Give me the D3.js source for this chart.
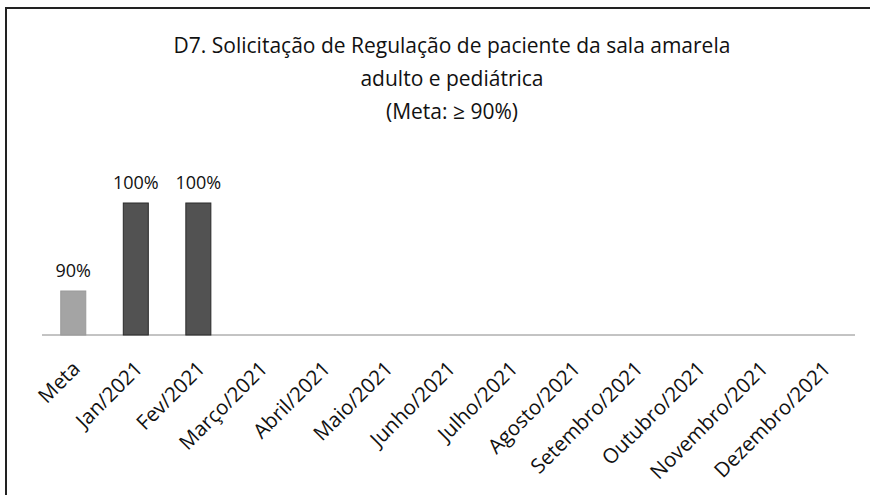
<!DOCTYPE html>
<html>
<head>
<meta charset="utf-8">
<script src="https://cdn.jsdelivr.net/npm/d3@7"></script>
<style>
  html, body { margin: 0; padding: 0; background: #fff; }
  svg { display: block; }
  text { font-family: "Open Sans", "Noto Sans", sans-serif; fill: #111; }
</style>
</head>
<body>
<svg id="chart" width="870" height="495"></svg>
<script>
const categories = ["Meta", "Jan/2021", "Fev/2021", "Março/2021", "Abril/2021", "Maio/2021",
  "Junho/2021", "Julho/2021", "Agosto/2021", "Setembro/2021", "Outubro/2021", "Novembro/2021", "Dezembro/2021"];
const values = [0.90, 1.00, 1.00, null, null, null, null, null, null, null, null, null, null];
const titleLines = ["D7. Solicitação de Regulação de paciente da sala amarela", "adulto e pediátrica", "(Meta: ≥ 90%)"];
const yDomain = [0.85, 1.00];

const svg = d3.select("#chart");

// frame
svg.append("rect")
  .attr("x", 6).attr("y", 8).attr("width", 880).attr("height", 500)
  .attr("fill", "none").attr("stroke", "#222").attr("stroke-width", 2);

// title
const title = svg.append("g");
titleLines.forEach((t, i) => {
  title.append("text")
    .attr("x", 452).attr("y", 53 + i * 33)
    .attr("text-anchor", "middle")
    .style("font-size", "21px")
    .text(t);
});

const x = d3.scaleBand().domain(categories).range([42, 855]).paddingInner(0.6).paddingOuter(0.3);
const y = d3.scaleLinear().domain(yDomain).range([335, 203]);

// baseline
svg.append("line")
  .attr("x1", 42).attr("x2", 855).attr("y1", 335).attr("y2", 335)
  .attr("stroke", "#888").attr("stroke-width", 1);

const data = categories.map((c, i) => ({ c, v: values[i] })).filter(d => d.v != null);

svg.selectAll("rect.bar").data(data).enter().append("rect")
  .attr("class", "bar")
  .attr("x", d => x(d.c))
  .attr("width", x.bandwidth())
  .attr("y", d => y(d.v))
  .attr("height", d => y(yDomain[0]) - y(d.v))
  .attr("fill", d => d.c === "Meta" ? "#a4a4a4" : "#525252")
  .attr("stroke", d => d.c === "Meta" ? "#999" : "#2a2a2a")
  .attr("stroke-width", 1);

svg.selectAll("text.val").data(data).enter().append("text")
  .attr("class", "val")
  .attr("x", d => x(d.c) + x.bandwidth() / 2)
  .attr("y", d => y(d.v) - 14)
  .attr("text-anchor", "middle")
  .style("font-size", "18px")
  .text(d => d3.format(".0%")(d.v));

// x labels
const xAxis = svg.append("g").attr("transform", "translate(0,335)")
  .call(d3.axisBottom(x).tickSize(0).tickPadding(0));
xAxis.select(".domain").remove();
xAxis.selectAll("text")
  .attr("text-anchor", "end")
  .attr("dy", null).attr("y", 0).attr("x", 0)
  .attr("transform", "translate(8,35) rotate(-45)")
  .style("font-size", "20.5px")
  .style("font-family", "'Open Sans', sans-serif")
  .attr("fill", "#111");
</script>
</body>
</html>
